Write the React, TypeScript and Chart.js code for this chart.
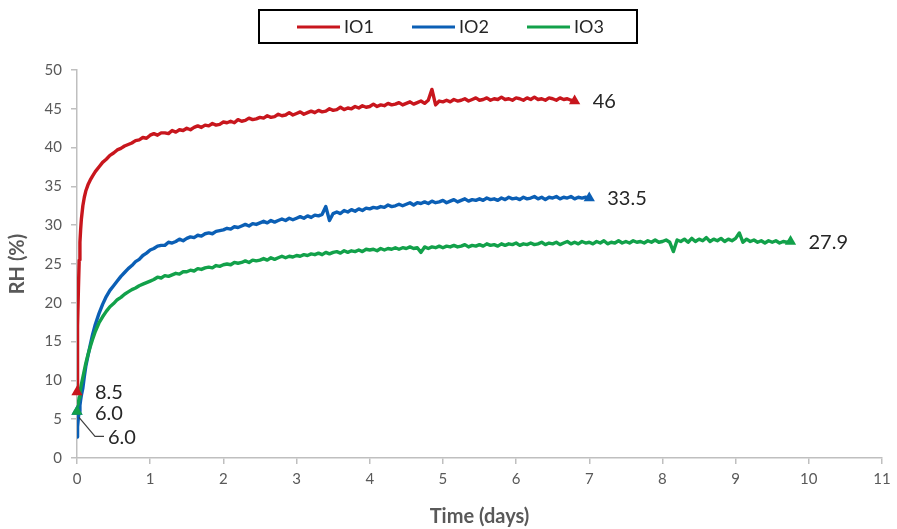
import React, { useEffect, useRef } from 'react';
import { Chart, registerables } from 'chart.js';

Chart.register(...registerables);

const FONT = 'Lato, "Open Sans", sans-serif';

const seriesNames = ['IO1', 'IO2', 'IO3'];
const seriesColors = ['#c8161d', '#0b5fb5', '#12a14a'];

// shared time axis (days); each series uses a prefix of it
const timeDays = [
  0, 0.005, 0.01, 0.02, 0.03, 0.04, 0.05, 0.06, 0.08, 0.1, 0.12, 0.15, 0.18, 0.21, 0.25, 0.3, 0.35, 0.4, 0.45, 0.5,
  0.55, 0.6, 0.65, 0.7, 0.75, 0.8, 0.85, 0.9, 0.95, 1.0,
  1.05, 1.1, 1.15, 1.2, 1.25, 1.3, 1.35, 1.4, 1.45, 1.5, 1.55, 1.6, 1.65, 1.7, 1.75, 1.8, 1.85, 1.9, 1.95, 2.0,
  2.05, 2.1, 2.15, 2.2, 2.25, 2.3, 2.35, 2.4, 2.45, 2.5, 2.55, 2.6, 2.65, 2.7, 2.75, 2.8, 2.85, 2.9, 2.95, 3.0,
  3.05, 3.1, 3.15, 3.2, 3.25, 3.3, 3.35, 3.4, 3.45, 3.5, 3.55, 3.6, 3.65, 3.7, 3.75, 3.8, 3.85, 3.9, 3.95, 4.0,
  4.05, 4.1, 4.15, 4.2, 4.25, 4.3, 4.35, 4.4, 4.45, 4.5, 4.55, 4.6, 4.65, 4.7, 4.75, 4.8, 4.85, 4.9, 4.95, 5.0,
  5.05, 5.1, 5.15, 5.2, 5.25, 5.3, 5.35, 5.4, 5.45, 5.5, 5.55, 5.6, 5.65, 5.7, 5.75, 5.8, 5.85, 5.9, 5.95, 6.0,
  6.05, 6.1, 6.15, 6.2, 6.25, 6.3, 6.35, 6.4, 6.45, 6.5, 6.55, 6.6, 6.65, 6.7, 6.75, 6.8, 6.85, 6.9, 6.95, 7.0,
  7.05, 7.1, 7.15, 7.2, 7.25, 7.3, 7.35, 7.4, 7.45, 7.5, 7.55, 7.6, 7.65, 7.7, 7.75, 7.8, 7.85, 7.9, 7.95, 8.0,
  8.05, 8.1, 8.15, 8.2, 8.25, 8.3, 8.35, 8.4, 8.45, 8.5, 8.55, 8.6, 8.65, 8.7, 8.75, 8.8, 8.85, 8.9, 8.95, 9.0,
  9.05, 9.1, 9.15, 9.2, 9.25, 9.3, 9.35, 9.4, 9.45, 9.5, 9.55, 9.6, 9.65, 9.7, 9.75,
];

// IO1 RH (%) – ends at 6.8 d
const rhIO1 = [
  8.5, 13, 17, 22, 25.5, 27.8, 29.5, 30.8, 32.5, 33.6, 34.4, 35.2, 35.8, 36.3, 36.9, 37.5, 38.1, 38.5, 39.0, 39.3,
  39.7, 39.9, 40.2, 40.4, 40.6, 40.9, 41.0, 41.3, 41.2, 41.6,
  41.8, 41.6, 41.9, 41.9, 41.8, 42.2, 42.0, 42.3, 42.2, 42.5,
  42.3, 42.6, 42.8, 42.6, 42.9, 42.8, 43.1, 42.9, 43.0, 43.3,
  43.2, 43.4, 43.2, 43.6, 43.4, 43.5, 43.8, 43.6, 43.7, 43.9,
  43.8, 44.1, 43.9, 44.0, 44.3, 44.1, 44.2, 44.5, 44.2, 44.4,
  44.6, 44.3, 44.5, 44.7, 44.5, 44.8, 44.6, 44.7, 45.0, 44.8,
  44.9, 45.2, 44.9, 45.1, 45.0, 45.3, 45.1, 45.4, 45.2, 45.3,
  45.6, 45.3, 45.5, 45.4, 45.7, 45.5, 45.6, 45.8, 45.5, 45.7,
  45.9, 45.6, 45.8, 46.0, 45.7, 46.1, 47.5, 45.5, 46.0, 45.9,
  46.1, 45.9, 46.2, 46.0, 46.1, 46.3, 46.0, 46.2, 46.4, 46.1,
  46.2, 46.4, 46.1, 46.3, 46.2, 46.5, 46.2, 46.3, 46.1, 46.4,
  46.3, 46.1, 46.4, 46.2, 46.5, 46.2, 46.3, 46.1, 46.4, 46.3,
  46.1, 46.4, 46.2, 46.3, 46.1, 46.0,
];

// IO2 RH (%) – ends at 7.0 d
const rhIO2 = [
  2.7, 3.3, 4.0, 5.3, 6.0, 6.8, 7.5, 8.1, 9.0, 10.5, 11.8, 13.2, 14.5, 15.8, 17.2, 18.6, 19.8, 20.8, 21.6, 22.2,
  22.8, 23.4, 23.9, 24.4, 24.8, 25.3, 25.6, 26.1, 26.4, 26.8,
  27.0, 27.3, 27.4, 27.4, 27.8, 27.7, 27.9, 28.2, 28.0, 28.3,
  28.5, 28.4, 28.7, 28.6, 28.9, 29.0, 28.9, 29.2, 29.3, 29.4,
  29.6, 29.5, 29.8, 29.7, 29.9, 30.1, 29.9, 30.2, 30.1, 30.3,
  30.5, 30.3, 30.6, 30.4, 30.6, 30.8, 30.6, 30.9, 30.7, 30.9,
  31.1, 30.9, 31.2, 31.0, 31.3, 31.2, 31.4, 32.4, 30.6, 31.5,
  31.7, 31.5, 31.9, 31.7, 32.0, 31.8, 32.1, 31.9, 32.2, 32.1,
  32.3, 32.2, 32.4, 32.3, 32.6, 32.4, 32.5, 32.7, 32.5, 32.7,
  32.9, 32.6, 32.9, 32.8, 33.0, 32.8, 33.1, 32.9, 33.0, 33.2,
  32.9, 33.1, 33.3, 33.0, 33.2, 33.4, 33.1, 33.3, 33.2, 33.4,
  33.2, 33.5, 33.3, 33.4, 33.2, 33.5, 33.3, 33.6, 33.4, 33.5,
  33.3, 33.6, 33.4, 33.5, 33.7, 33.4, 33.6, 33.3, 33.6, 33.5,
  33.7, 33.4, 33.6, 33.5, 33.7, 33.4, 33.6, 33.5, 33.6, 33.5,
];

// IO3 RH (%) – ends at 9.75 d
const rhIO3 = [
  6.0, 6.3, 6.6, 7.2, 7.8, 8.4, 9.0, 9.5, 10.4, 11.3, 12.2, 13.3, 14.3, 15.2, 16.3, 17.4, 18.2, 18.9, 19.5, 19.9,
  20.4, 20.7, 21.1, 21.4, 21.7, 21.9, 22.2, 22.4, 22.6, 22.8,
  23.0, 23.3, 23.2, 23.5, 23.4, 23.6, 23.8, 23.7, 24.0, 24.0,
  24.2, 24.1, 24.4, 24.3, 24.5, 24.6, 24.5, 24.8, 24.7, 24.9,
  25.0, 24.9, 25.2, 25.1, 25.2, 25.4, 25.2, 25.5, 25.4, 25.5,
  25.7, 25.5, 25.8, 25.6, 25.8, 26.0, 25.8, 26.0, 25.9, 26.1,
  26.0, 26.2, 26.1, 26.3, 26.2, 26.4, 26.2, 26.5, 26.3, 26.5,
  26.6, 26.4, 26.7, 26.5, 26.7, 26.6, 26.8, 26.6, 26.9, 26.8,
  26.9, 26.7, 27.0, 26.8, 27.0, 26.9, 27.1, 26.9, 27.1, 27.0,
  27.2, 27.0, 27.1, 26.5, 27.2, 27.0, 27.2, 27.1, 27.3, 27.1,
  27.3, 27.2, 27.4, 27.2, 27.3, 27.5, 27.2, 27.4, 27.3, 27.5,
  27.3, 27.6, 27.4, 27.5, 27.3, 27.6, 27.4, 27.6, 27.5, 27.7,
  27.4, 27.6, 27.5, 27.7, 27.5, 27.6, 27.8, 27.5, 27.7, 27.6,
  27.8, 27.5, 27.7, 27.9, 27.6, 27.8, 27.6, 27.9, 27.7, 27.8,
  27.6, 27.9, 27.7, 28.0, 27.6, 27.8, 27.7, 28.0, 27.7, 27.9,
  27.7, 28.0, 27.8, 27.9, 27.7, 28.0, 27.8, 28.1, 27.8, 27.9,
  28.1, 27.8, 26.6, 28.1, 27.9, 28.2, 27.8, 28.3, 27.9, 28.2,
  28.0, 28.4, 27.9, 28.2, 28.0, 28.3, 27.9, 28.2, 28.0, 28.3,
  29.0, 27.8, 28.2, 27.9, 28.1, 27.8, 28.0, 27.7, 28.0, 27.8,
  28.0, 27.7, 27.9, 27.8, 27.9,
];

// start/end markers and their labels
const startMarkerT = [0, 0, 0];
const startMarkerRH = [8.5, 6.0, 6.0];
const startLabels = ['8.5', '6.0', '6.0'];
const endMarkerT = [6.8, 7.0, 9.75];
const endMarkerRH = [46.0, 33.5, 27.9];
const endLabels = ['46', '33.5', '27.9'];

const xAxisMax = 11;
const yAxisMax = 50;

const seriesRH = [rhIO1, rhIO2, rhIO3];
// drawing stack order (higher = further back)
const lineOrder = [3, 5, 4];
const markerDrawOrder = [0, 2, 1];

const annotPlugin = {
  id: 'annot',
  afterDatasetsDraw(chart: any) {
    const { ctx } = chart;
    const x = chart.scales.x;
    const y = chart.scales.y;
    ctx.save();
    ctx.font = `20px ${FONT}`;
    ctx.fillStyle = '#262626';
    ctx.textBaseline = 'middle';
    ctx.textAlign = 'left';
    for (let i = 0; i < endLabels.length; i++) {
      const px = x.getPixelForValue(endMarkerT[i]);
      const py = y.getPixelForValue(endMarkerRH[i]);
      ctx.fillText(endLabels[i], px + 18, py + 1);
    }
    const sx0 = x.getPixelForValue(startMarkerT[0]);
    ctx.fillText(startLabels[0], sx0 + 18, y.getPixelForValue(startMarkerRH[0]) + 1);
    const sx2 = x.getPixelForValue(startMarkerT[2]);
    const sy2 = y.getPixelForValue(startMarkerRH[2]);
    ctx.fillText(startLabels[2], sx2 + 18, sy2 + 2);
    const sx1 = x.getPixelForValue(startMarkerT[1]);
    const sy1 = y.getPixelForValue(startMarkerRH[1]);
    ctx.fillText(startLabels[1], sx1 + 31, sy1 + 26);
    ctx.strokeStyle = '#404040';
    ctx.lineWidth = 1.2;
    ctx.beginPath();
    ctx.moveTo(sx1 + 2, sy1 + 6);
    ctx.lineTo(sx1 + 18, sy1 + 25);
    ctx.lineTo(sx1 + 27, sy1 + 25);
    ctx.stroke();
    ctx.restore();
  },
  afterDraw(chart: any) {
    const { ctx } = chart;
    ctx.save();
    ctx.strokeStyle = '#000';
    ctx.lineWidth = 2;
    ctx.strokeRect(259, 10, 378, 33);
    ctx.font = `18px ${FONT}`;
    ctx.fillStyle = '#262626';
    ctx.textBaseline = 'middle';
    const starts = [297, 412, 527];
    for (let i = 0; i < seriesNames.length; i++) {
      ctx.strokeStyle = seriesColors[i];
      ctx.lineWidth = 3;
      ctx.beginPath();
      ctx.moveTo(starts[i], 27);
      ctx.lineTo(starts[i] + 43, 27);
      ctx.stroke();
      ctx.fillText(seriesNames[i], starts[i] + 47, 27);
    }
    ctx.restore();
  },
};

export default function App() {
  const ref = useRef<HTMLCanvasElement | null>(null);
  useEffect(() => {
    if (!ref.current) return;
    const lineSets = seriesNames.map((name, i) => ({
      type: 'line' as const,
      label: name,
      data: seriesRH[i].map((v, j) => ({ x: timeDays[j], y: v })),
      borderColor: seriesColors[i],
      backgroundColor: seriesColors[i],
      borderWidth: 3.4,
      pointRadius: 0,
      tension: 0,
      borderJoinStyle: 'round' as const,
      order: lineOrder[i],
    }));
    const markerSets = seriesNames.map((name, i) => ({
      type: 'scatter' as const,
      label: name + ' marker',
      data: [
        { x: startMarkerT[i], y: startMarkerRH[i] },
        { x: endMarkerT[i], y: endMarkerRH[i] },
      ],
      showLine: false,
      pointStyle: 'triangle',
      pointRadius: 6.5,
      borderWidth: 0,
      backgroundColor: seriesColors[i],
      borderColor: seriesColors[i],
      clip: false,
      order: markerDrawOrder[i],
    }));
    const tickFont = { family: FONT, size: 15 };
    const chart = new Chart(ref.current, {
      type: 'line',
      data: { datasets: [...lineSets, ...markerSets] as any },
      options: {
        responsive: false,
        animation: false,
        events: [],
        layout: { padding: { top: 70, right: 15, left: 0, bottom: 0 } },
        plugins: { legend: { display: false }, tooltip: { enabled: false } },
        scales: {
          x: {
            type: 'linear',
            min: 0,
            max: xAxisMax,
            ticks: { stepSize: 1, color: '#595959', font: tickFont, padding: 6 },
            grid: { drawOnChartArea: false, drawTicks: true, tickLength: 6, color: '#bfbfbf', lineWidth: 1.5 },
            border: { color: '#bfbfbf', width: 1.5 },
            title: {
              display: true,
              text: 'Time (days)',
              color: '#595959',
              font: { family: FONT, size: 20, weight: 'bold' },
              padding: { top: 0, bottom: 0 },
            },
            afterFit: (s: any) => {
              s.height = 71;
            },
          },
          y: {
            type: 'linear',
            min: 0,
            max: yAxisMax,
            ticks: { stepSize: 5, color: '#595959', font: tickFont, padding: 9 },
            grid: { drawOnChartArea: false, drawTicks: true, tickLength: 6, color: '#bfbfbf', lineWidth: 1.5 },
            border: { color: '#bfbfbf', width: 1.5 },
            title: {
              display: true,
              text: 'RH (%)',
              color: '#595959',
              font: { family: FONT, size: 20, weight: 'bold' },
              padding: { top: 6, bottom: 0 },
            },
            afterFit: (s: any) => {
              s.width = 77;
            },
          },
        },
      },
      plugins: [annotPlugin],
    });
    return () => chart.destroy();
  }, []);
  return (
    <div style={{ position: 'fixed', left: 0, top: 0, width: 897, height: 529, background: '#fff' }}>
      <canvas ref={ref} width={897} height={529} />
    </div>
  );
}
